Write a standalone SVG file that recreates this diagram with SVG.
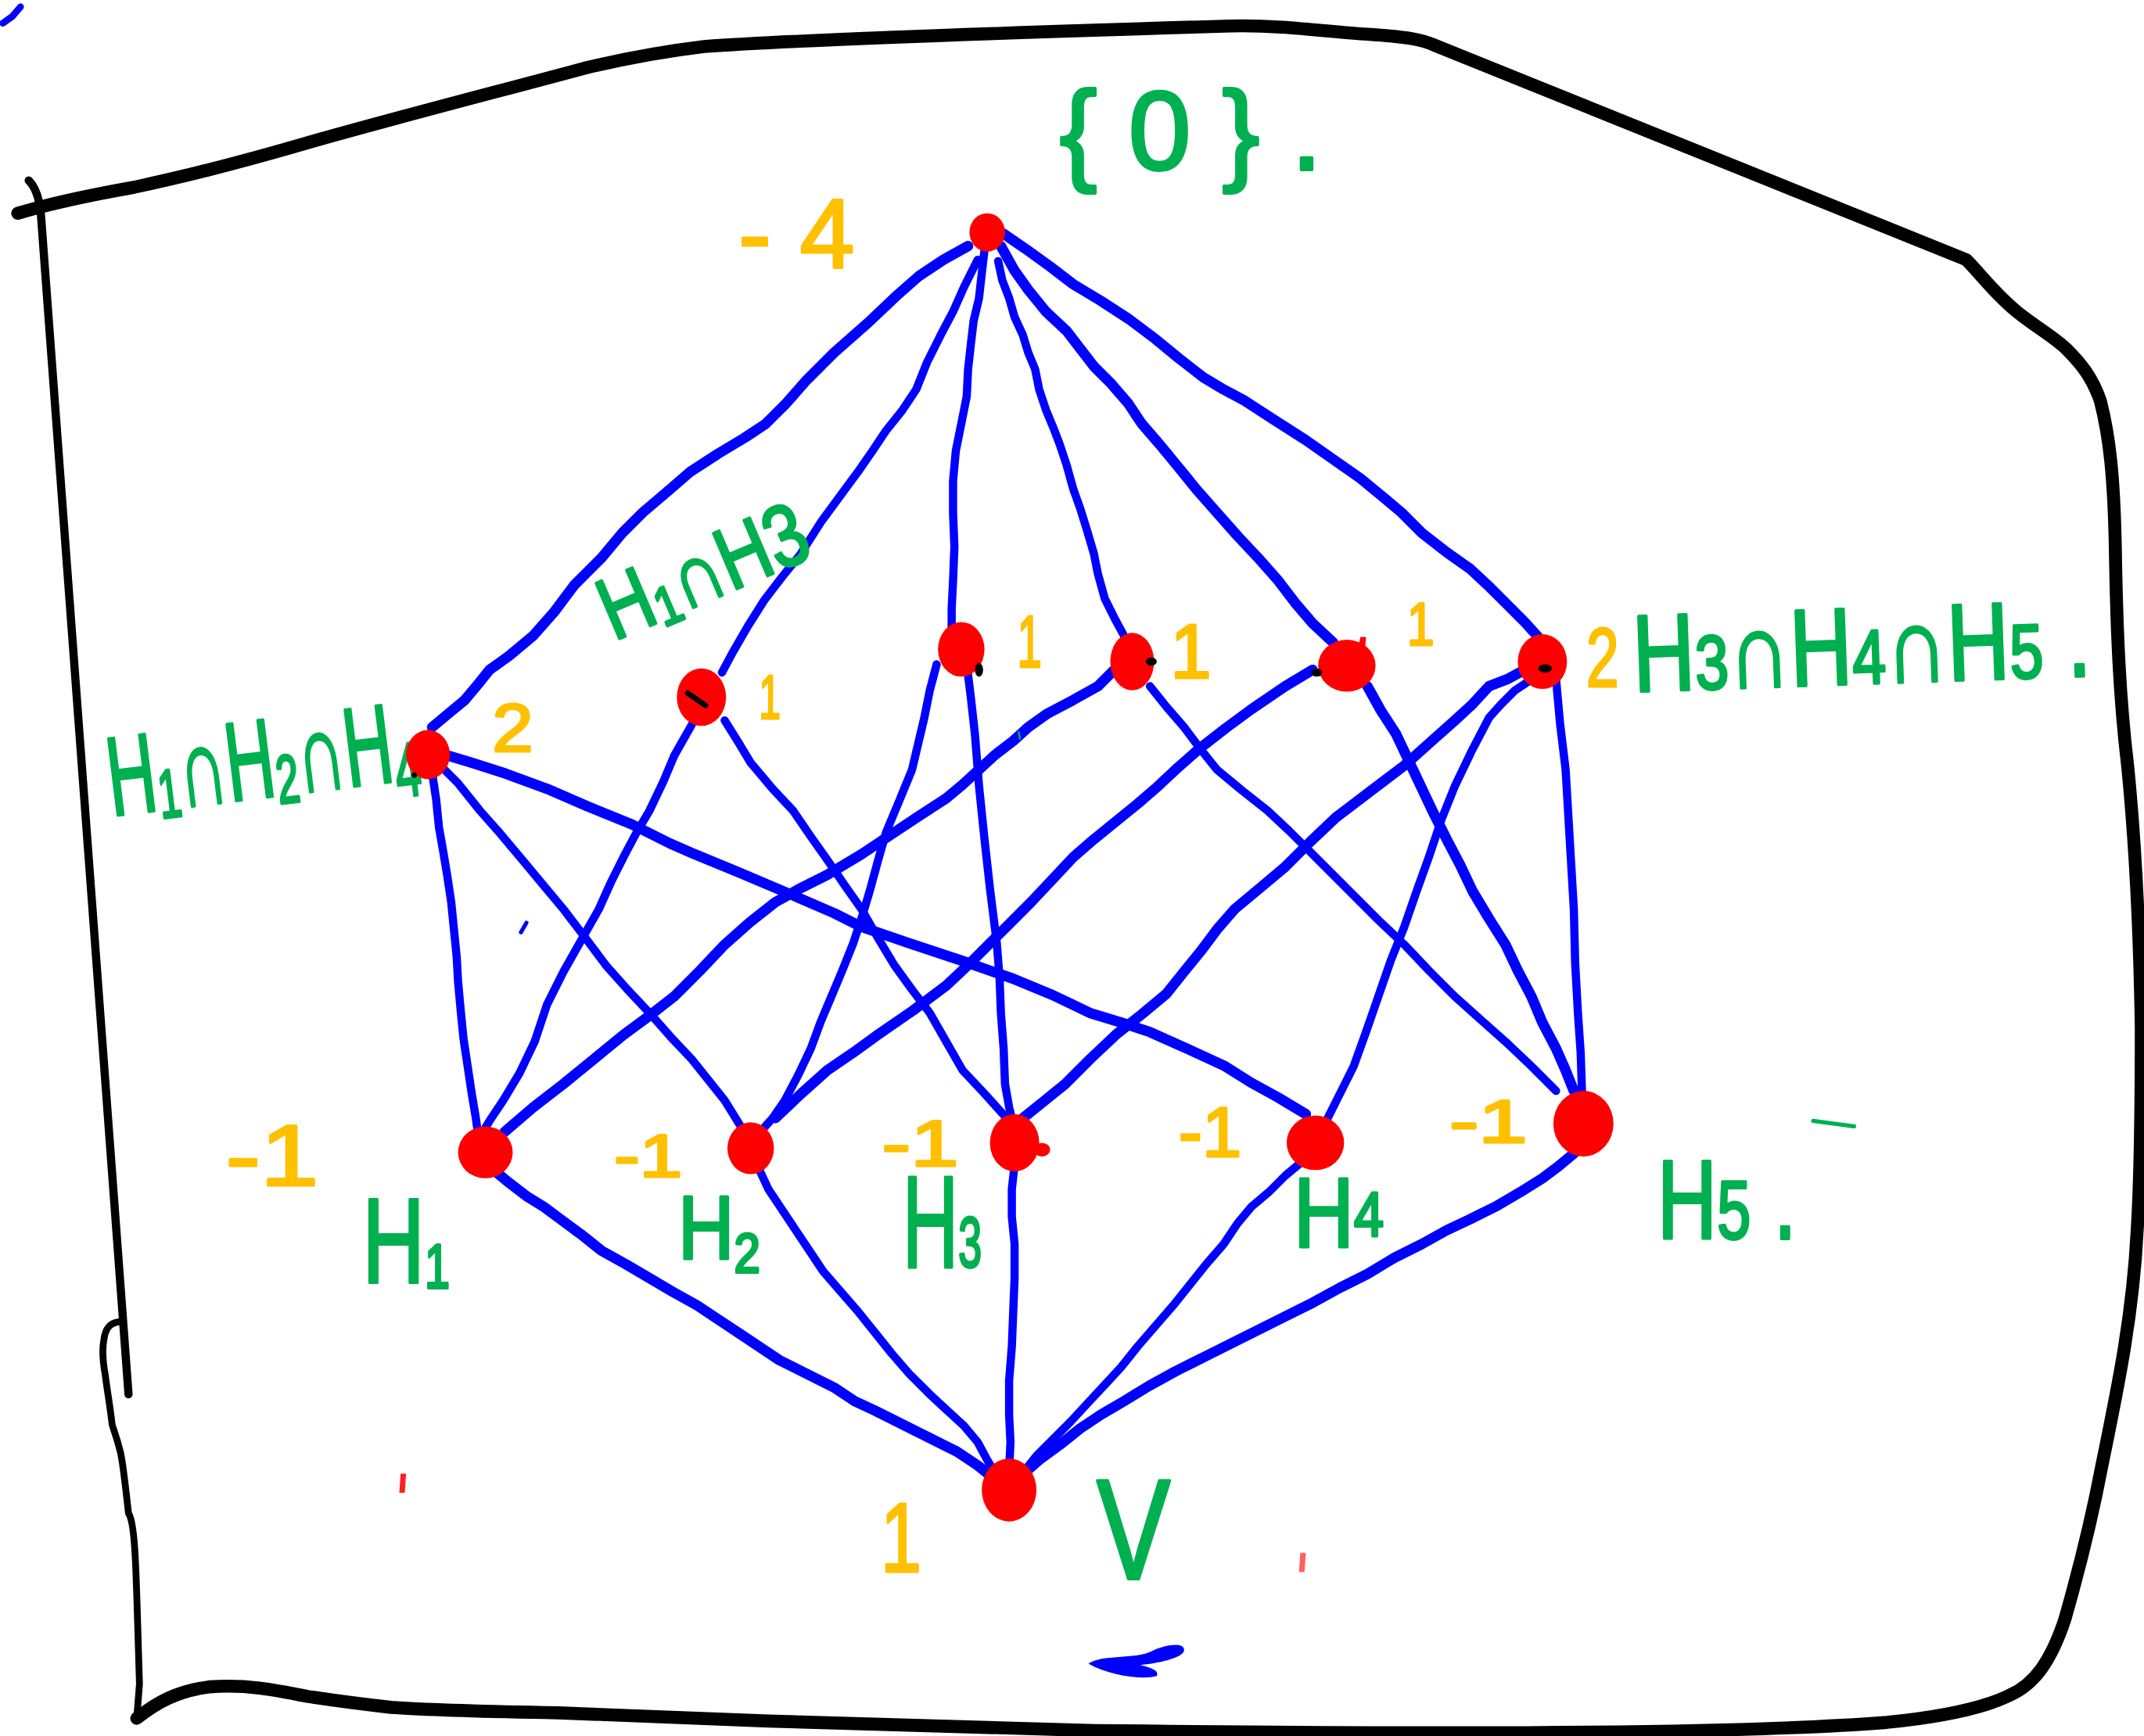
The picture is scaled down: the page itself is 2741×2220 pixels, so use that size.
<svg xmlns="http://www.w3.org/2000/svg" width="2741" height="2220" viewBox="0 0 2741 2220">
<style>
.e{fill:none;stroke:#0000ff;stroke-width:6;stroke-linecap:round;stroke-linejoin:round}
.k{stroke-width:7.6}
.f{fill:none;stroke:#000;stroke-width:9.5;stroke-linecap:round;stroke-linejoin:round}
.n{fill:#ff0000}
.g{fill:#00b050;stroke:#00b050;stroke-width:2.2;stroke-linejoin:round;font-family:"Liberation Sans",Arial,sans-serif}
.y{fill:#ffc000;stroke:#ffc000;stroke-width:1.8;stroke-linejoin:round;font-family:"Liberation Sans",Arial,sans-serif}
.d{fill:#000}
</style>
<rect x="0" y="0" width="2741" height="2220" fill="#ffffff"/>
<g transform="scale(1.7481)">
<g id="frame">
<path class="f" d="M 13,156 C 40,148 70,142 98,137 C 130,130 165,122 230,103 C 290,86 360,68 427,50 C 460,42 490,37 515,34 C 600,28 800,22 900,19 C 940,18 975,24 1000,25 C 1030,27 1040,29 1049,33 L 1438,190 C 1448,200 1458,214 1475,228 C 1490,240 1503,247 1512,256 C 1522,266 1530,276 1536,293 C 1543,320 1546,350 1547,400 C 1548,460 1550,510 1556,560 C 1562,620 1565,690 1566,752 C 1566,810 1565,868 1563,900 C 1560,960 1550,1010 1537,1073 C 1530,1110 1520,1150 1510,1185 C 1500,1215 1488,1232 1470,1240 C 1450,1250 1420,1256 1380,1260 C 1250,1270 1000,1268 801,1266 L 562,1259 C 480,1256 420,1253 408,1253 C 350,1252 300,1250 286,1249 C 250,1245 232,1242 225,1241 C 200,1236 180,1232 153,1234 C 130,1237 115,1245 100,1257"/>
<path class="f" style="stroke-width:5" d="M 100,1257 L 102,1232 C 101,1200 100,1160 99,1141 C 98,1120 96,1110 94,1107 C 92,1090 90,1070 88,1062 C 85,1050 83,1046 82,1042 C 80,1025 78,1015 77,1006 C 75,995 75,985 76,980 C 77,972 80,968 87,967"/>
<path class="f" style="stroke-width:6" d="M 21,132 C 26,137 29,145 30,158 L 94,1020"/>
</g>
<g id="connectors">
<path class="e k" d="M 708,180 L 690,190 L 672,202 L 655,217 L 635,236 L 610,258 L 598,270 L 590,278 L 575,295 L 560,310 L 545,320 L 525,332 L 505,345 L 490,358 L 470,375 L 455,390 L 440,408 L 420,428 L 405,448 L 390,465 L 372,480 L 358,490 L 350,500 L 340,512 L 328,522 L 316,532"/>
<path class="e" d="M 715,190 L 705,210 L 697,228 L 688,245 L 678,265 L 670,285 L 660,300 L 648,315 L 638,330 L 629,343 L 615,362 L 601,381 L 585,406 L 572,422 L 559,439 L 547,458 L 536,477 L 528,492"/>
<path class="e" d="M 720,183 L 718,200 L 716,218 L 712,235 L 710,252 L 708,270 L 707,290 L 703,310 L 699,330 L 697,352 L 697,375 L 698,400 L 697,425 L 696,445 L 696,460"/>
<path class="e" d="M 730,191 L 733,205 L 738,218 L 742,232 L 748,245 L 752,258 L 757,270 L 760,285 L 765,300 L 770,312 L 775,325 L 780,340 L 785,358 L 790,372 L 795,388 L 800,405 L 803,420 L 808,438 L 815,452 L 822,465"/>
<path class="e k" d="M 732,180 L 742,198 L 752,212 L 765,228 L 780,242 L 790,255 L 800,268 L 812,280 L 825,295 L 835,310 L 848,325 L 862,342 L 875,358 L 890,375 L 905,392 L 920,408 L 935,425 L 948,442 L 960,456 L 975,470"/>
<path class="e k" d="M 734,171 L 750,182 L 768,195 L 785,208 L 805,220 L 825,233 L 845,248 L 862,262 L 880,276 L 895,285 L 910,293 L 930,306 L 955,322 L 975,336 L 995,350 L 1012,364 L 1025,375 L 1040,390 L 1058,404 L 1075,416 L 1090,430 L 1105,445 L 1115,455 L 1125,466"/>
<path class="e" d="M 316,565 L 319,585 L 321,605 L 324,622 L 327,640 L 330,660 L 332,680 L 334,700 L 335,718 L 337,740 L 339,760 L 342,780 L 345,800 L 348,818 L 350,832"/>
<path class="e" d="M 322,560 L 335,573 L 351,593 L 366,610 L 382,629 L 397,647 L 412,665 L 428,686 L 443,706 L 459,724 L 475,741 L 490,758 L 506,775 L 518,790 L 530,805 L 543,826"/>
<path class="e k" d="M 325,552 L 345,558 L 370,566 L 400,577 L 430,590 L 462,603 L 490,617 L 506,624 L 540,638 L 580,655 L 610,668 L 630,678 L 665,690 L 704,703 L 741,716 L 770,728 L 797,741 L 820,748 L 841,755 L 870,768 L 896,780 L 915,792 L 935,803 L 955,815"/>
<path class="e" d="M 506,530 L 493,553 L 485,572 L 475,593 L 465,610 L 456,627 L 447,645 L 438,665 L 425,688 L 412,711 L 400,735 L 391,762 L 380,785 L 368,805 L 358,820 L 352,830"/>
<path class="e" d="M 530,527 L 540,543 L 549,558 L 565,577 L 580,593 L 593,612 L 605,629 L 618,648 L 630,665 L 642,686 L 654,706 L 667,724 L 680,741 L 692,762 L 704,783 L 720,800 L 738,820"/>
<path class="e" d="M 685,486 L 680,505 L 676,525 L 667,563 L 658,585 L 648,609 L 642,630 L 636,652 L 630,672 L 624,690 L 616,710 L 608,729 L 600,748 L 593,767 L 584,786 L 574,805 L 565,818 L 556,828"/>
<path class="e" d="M 707,486 L 710,510 L 713,537 L 716,575 L 720,614 L 724,650 L 729,690 L 731,715 L 732,741 L 734,767 L 735,793 L 738,810 L 741,822"/>
<path class="e k" d="M 815,490 L 803,502 L 785,512 L 766,522 L 752,532 L 741,542 L 728,552 L 716,563 L 704,574 L 692,584 L 672,597 L 654,609 L 630,625 L 605,640 L 585,650 L 567,660 L 548,675 L 530,691 L 512,710 L 493,729 L 475,743 L 456,757 L 434,775 L 412,793 L 390,810 L 369,828"/>
<path class="e" d="M 841,502 L 853,517 L 866,532 L 878,548 L 890,563 L 908,578 L 927,593 L 943,608 L 959,624 L 975,640 L 990,655 L 1008,673 L 1027,691 L 1045,710 L 1064,729 L 1083,746 L 1101,762 L 1120,780 L 1138,798"/>
<path class="e k" d="M 960,490 L 940,502 L 915,519 L 896,533 L 878,547 L 862,561 L 847,575 L 832,588 L 816,601 L 800,614 L 785,627 L 770,643 L 754,660 L 738,676 L 723,691 L 708,706 L 692,721 L 668,739 L 642,757 L 624,770 L 605,783 L 586,800 L 567,818"/>
<path class="e k" d="M 1000,502 L 1010,520 L 1021,537 L 1030,556 L 1039,575 L 1048,594 L 1058,614 L 1068,633 L 1077,652 L 1089,672 L 1101,691 L 1110,710 L 1120,729 L 1128,748 L 1138,767 L 1145,783 L 1151,798"/>
<path class="e k" d="M 1115,490 L 1102,497 L 1089,502 L 1077,515 L 1064,527 L 1046,543 L 1027,560 L 1002,579 L 977,598 L 958,616 L 940,634 L 921,650 L 903,665 L 890,680 L 878,696 L 865,712 L 853,727 L 835,742 L 816,757 L 797,775 L 779,793 L 763,806 L 748,818"/>
<path class="e" d="M 1120,497 L 1108,505 L 1098,515 L 1089,525 L 1076,550 L 1064,575 L 1054,600 L 1045,627 L 1036,652 L 1027,678 L 1017,703 L 1008,729 L 999,755 L 990,780 L 980,800 L 971,818"/>
<path class="e" d="M 1138,497 L 1141,530 L 1145,563 L 1148,614 L 1151,665 L 1152,705 L 1154,741 L 1156,770 L 1157,800"/>
<path class="e k" d="M 360,855 L 372,865 L 385,875 L 398,883 L 410,892 L 425,903 L 440,915 L 458,925 L 475,935 L 492,945 L 510,955 L 525,965 L 540,975 L 555,985 L 570,995 L 590,1005 L 610,1015 L 625,1025 L 640,1032 L 660,1042 L 680,1052 L 700,1062 L 715,1072 L 725,1080"/>
<path class="e" d="M 555,855 L 562,870 L 572,885 L 582,900 L 592,915 L 602,930 L 615,945 L 628,960 L 640,975 L 652,990 L 665,1005 L 680,1020 L 693,1032 L 705,1043 L 715,1055 L 722,1068 L 728,1078"/>
<path class="e" d="M 742,852 L 740,870 L 740,890 L 742,910 L 742,935 L 741,960 L 740,985 L 738,1010 L 738,1035 L 739,1055 L 738,1075"/>
<path class="e" d="M 952,850 L 940,860 L 928,872 L 915,883 L 905,895 L 895,910 L 882,925 L 870,940 L 858,955 L 845,970 L 832,985 L 820,1000 L 808,1013 L 795,1027 L 783,1040 L 770,1053 L 758,1065 L 750,1075"/>
<path class="e k" d="M 1152,843 L 1140,853 L 1128,862 L 1112,872 L 1095,882 L 1075,892 L 1058,900 L 1040,910 L 1020,920 L 1000,932 L 980,942 L 960,953 L 940,963 L 920,973 L 900,983 L 880,993 L 860,1003 L 840,1014 L 822,1025 L 805,1035 L 790,1045 L 775,1057 L 760,1068 L 752,1075"/>
</g>
<g id="node-top">
<ellipse class="n" cx="722" cy="170" rx="13" ry="14"/>
<text class="g" x="775" y="124" font-size="82" textLength="192" lengthAdjust="spacing">{0}.</text>
<text class="y" x="540" y="196" font-size="72" textLength="85" lengthAdjust="spacing">-4</text>
</g>
<g id="node-H1H2H4">
<text class="g" transform="rotate(-7 82 597)" x="82" y="597" font-size="82" textLength="228" lengthAdjust="spacingAndGlyphs">H<tspan font-size="50" dy="6">1</tspan><tspan dy="-6">∩H</tspan><tspan font-size="50" dy="6">2</tspan><tspan dy="-6">∩H</tspan><tspan font-size="56" dy="12">4</tspan></text>
<ellipse class="n" cx="313" cy="552" rx="16" ry="18"/>
<circle class="d" cx="303" cy="567" r="2"/>
<text class="y" x="360" y="550" font-size="50" textLength="30" lengthAdjust="spacingAndGlyphs">2</text>
</g>
<g id="node-H1H3">
<text class="g" transform="rotate(-23 449 469)" x="449" y="469" font-size="64" textLength="160" lengthAdjust="spacingAndGlyphs">H<tspan font-size="40" dy="5">1</tspan><tspan dy="-5">∩H3</tspan></text>
<ellipse class="n" cx="513" cy="510" rx="18" ry="21"/>
<path d="M 503,507 L 516,516" stroke="#000" stroke-width="4" stroke-linecap="round"/>
<text class="y" x="555" y="526" font-size="46" textLength="16" lengthAdjust="spacingAndGlyphs">1</text>
</g>
<g id="node-H2H3">
<ellipse class="n" cx="703" cy="475" rx="17" ry="20"/>
<ellipse class="d" cx="716" cy="490" rx="3" ry="5"/>
<text class="y" x="744" y="488" font-size="54" textLength="18" lengthAdjust="spacingAndGlyphs">1</text>
</g>
<g id="node-H1H5">
<ellipse class="n" cx="828" cy="484" rx="16" ry="21"/>
<ellipse class="d" cx="842" cy="484" rx="4" ry="3"/>
<text class="y" x="856" y="496" font-size="56" textLength="30" lengthAdjust="spacingAndGlyphs">1</text>
</g>
<g id="node-H2H5">
<ellipse class="n" cx="985" cy="487" rx="21" ry="19"/>
<path class="n" d="M 992,478 L 995,466 L 999,466 L 998,480 Z"/>
<ellipse class="d" cx="963" cy="492" rx="4" ry="3"/>
<text class="y" x="1029" y="472" font-size="44" textLength="20" lengthAdjust="spacingAndGlyphs">1</text>
</g>
<g id="node-H3H4H5">
<ellipse class="n" cx="1128" cy="484" rx="18" ry="20"/>
<ellipse class="d" cx="1130" cy="489" rx="5" ry="3"/>
<text class="y" x="1160" y="502" font-size="62" textLength="24" lengthAdjust="spacingAndGlyphs">2</text>
<text class="g" transform="rotate(-2 1195 506)" x="1195" y="506" font-size="80" textLength="335" lengthAdjust="spacingAndGlyphs">H<tspan font-size="56">3</tspan>∩H<tspan font-size="56">4</tspan>∩H<tspan font-size="56">5</tspan> .</text>
</g>
<g id="node-H1">
<ellipse class="n" cx="355" cy="843" rx="20" ry="19"/>
<text class="y" x="165" y="867" font-size="64" textLength="68" lengthAdjust="spacingAndGlyphs">-1</text>
<text class="g" x="265" y="938" font-size="88" textLength="64" lengthAdjust="spacingAndGlyphs">H<tspan font-size="46" dy="4">1</tspan></text>
</g>
<g id="node-H2">
<ellipse class="n" cx="549" cy="840" rx="17" ry="19"/>
<text class="y" x="449" y="861" font-size="44" textLength="50" lengthAdjust="spacingAndGlyphs">-1</text>
<text class="g" x="496" y="921" font-size="66" textLength="60" lengthAdjust="spacingAndGlyphs">H<tspan font-size="40" dy="10">2</tspan></text>
</g>
<g id="node-H3">
<ellipse class="n" cx="742" cy="836" rx="18" ry="21"/>
<ellipse class="n" cx="762" cy="841" rx="6" ry="5"/>
<text class="y" x="645" y="853" font-size="48" textLength="56" lengthAdjust="spacingAndGlyphs">-1</text>
<text class="g" x="660" y="927" font-size="96" textLength="58" lengthAdjust="spacingAndGlyphs">H<tspan font-size="52">3</tspan></text>
</g>
<g id="node-H4">
<ellipse class="n" cx="962" cy="836" rx="21" ry="20"/>
<text class="y" x="862" y="846" font-size="52" textLength="46" lengthAdjust="spacingAndGlyphs">-1</text>
<text class="g" x="946" y="912" font-size="72" textLength="66" lengthAdjust="spacingAndGlyphs">H<tspan font-size="46" dy="-8">4</tspan></text>
</g>
<g id="node-H5">
<ellipse class="n" cx="1158" cy="822" rx="22" ry="24"/>
<text class="y" x="1060" y="836" font-size="44" textLength="57" lengthAdjust="spacingAndGlyphs">-1</text>
<text class="g" x="1212" y="906" font-size="82" textLength="102" lengthAdjust="spacingAndGlyphs">H<tspan font-size="60">5</tspan> .</text>
<path d="M 1326,820 L 1356,824" stroke="#00b050" stroke-width="3" stroke-linecap="round"/>
</g>
<g id="node-V">
<ellipse class="n" cx="738" cy="1090" rx="20" ry="23"/>
<text class="y" x="644" y="1150" font-size="72" textLength="30" lengthAdjust="spacingAndGlyphs">1</text>
<text class="g" x="802" y="1155" font-size="104" textLength="54" lengthAdjust="spacingAndGlyphs">V</text>
</g>
<g id="marks">
<path d="M 2,17 L 9,12 L 15,5" fill="none" stroke="#0000ff" stroke-width="5" stroke-linecap="round"/>
<path d="M 381,682 L 385,675" fill="none" stroke="#0000ff" stroke-width="3" stroke-linecap="round"/>
<path d="M 745,535 L 746,541" fill="none" stroke="#00b050" stroke-width="1.5"/>
<path d="M 293,1078 L 297,1078 L 296,1092 L 292,1092 Z" fill="#ff2020"/>
<path d="M 951,1136 L 955,1136 L 954,1150 L 950,1150 Z" fill="#ff6060"/>
<path d="M 796,1217 C 806,1210 830,1214 842,1208 C 852,1203 866,1201 866,1207 C 866,1213 845,1217 834,1218 C 842,1220 848,1222 846,1226 C 836,1229 812,1226 796,1217 Z" fill="#0000ff"/>
</g>
</g>
</svg>
